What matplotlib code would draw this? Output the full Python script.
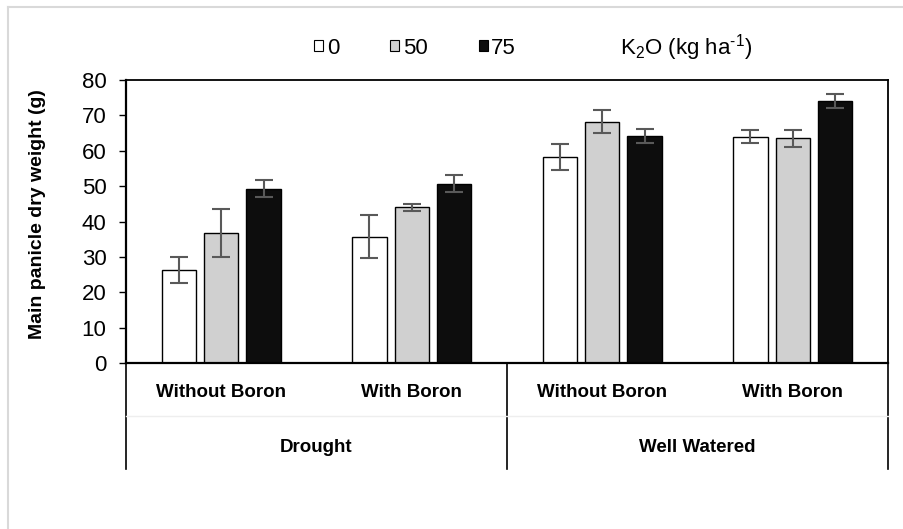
import numpy as np
import matplotlib
matplotlib.use("Agg")
import matplotlib.pyplot as plt
from matplotlib.patches import Patch
import matplotlib.transforms as mtransforms

plt.rcParams['font.family'] = ['Liberation Sans', 'DejaVu Sans']
plt.rcParams['mathtext.fontset'] = 'custom'
plt.rcParams['mathtext.rm'] = 'Liberation Sans'
plt.rcParams['mathtext.it'] = 'Liberation Sans'
plt.rcParams['mathtext.bf'] = 'Liberation Sans:bold'

# data
conditions = ['Drought', 'Well Watered']
boron = ['Without Boron', 'With Boron', 'Without Boron', 'With Boron']
k2o_levels = ['0', '50', '75']
k0 = [26.3, 35.7, 58.3, 64.0]
k50 = [36.7, 44.0, 68.2, 63.5]
k75 = [49.3, 50.7, 64.1, 74.1]
err0 = [3.8, 6.0, 3.7, 1.9]
err50 = [6.8, 0.9, 3.2, 2.5]
err75 = [2.4, 2.5, 2.0, 2.0]

fills = ['white', '#d0d0d0', '#0d0d0d']

fig = plt.figure(figsize=(9.04, 5.29), dpi=100)
ax = fig.add_axes([126/904, 1-363/529, 762/904, 283/529])

x = np.arange(len(boron))
step = 0.222
width = 0.181
series = [k0, k50, k75]
errs = [err0, err50, err75]
handles = []
for i, (vals, ee) in enumerate(zip(series, errs)):
    pos = x + (i - 1) * step
    ax.bar(pos, vals, width, color=fills[i], edgecolor='black', linewidth=1.0, zorder=2)
    ax.errorbar(pos, vals, yerr=ee, fmt='none', ecolor='#595959', elinewidth=1.5,
                capsize=6.5, capthick=1.5, zorder=3)
    handles.append(Patch(facecolor=fills[i], edgecolor='black', linewidth=0.8, label=k2o_levels[i]))

ax.set_xlim(-0.5, 3.5)
ax.set_ylim(0, 80)
ax.set_yticks(range(0, 81, 10))
ax.tick_params(axis='y', labelsize=16, length=5, width=1.0, pad=9, direction='out')
ax.set_xticks([])
for s in ax.spines.values():
    s.set_linewidth(1.3)
ax.spines['bottom'].set_linewidth(1.6)
ax.spines['left'].set_linewidth(1.6)

# category labels below the axis
trans = mtransforms.blended_transform_factory(ax.transData, ax.transAxes)
for xi, lab in zip(x, boron):
    ax.text(xi, -0.106, lab, transform=trans, ha='center', va='center',
            fontsize=13.5, fontweight='bold')
for j, cond in enumerate(conditions):
    ax.text(2 * j + 0.5, -0.297, cond, transform=trans, ha='center', va='center',
            fontsize=13.5, fontweight='bold')
for xv in [-0.5, 1.5, 3.5]:
    ax.plot([xv, xv], [0, -0.375], transform=trans, color='black', lw=1.2, clip_on=False)
ax.plot([-0.5, 3.5], [-0.187, -0.187], transform=trans, color='#eeeeee', lw=1.0, clip_on=False)

fig.text(38/904, 1-214/529, 'Main panicle dry weight (g)', rotation=90, ha='center', va='center',
         fontsize=14, fontweight='bold')

fig.legend(handles=handles, loc='center left', bbox_to_anchor=(314/904, 1-48/529),
           ncol=3, frameon=False, fontsize=16, handlelength=0.42, handleheight=0.42,
           handletextpad=0.15, columnspacing=2.3, borderpad=0, borderaxespad=0)
fig.text(620/904, 1-48/529, r'K$_\mathrm{2}$O (kg ha$^{\text{-1}}$)', ha='left', va='center',
         fontsize=16)

# light outer frame
fig.add_artist(plt.Line2D([8/904, 8/904], [0, 1-7/529], color='#d9d9d9', lw=1.5))
fig.add_artist(plt.Line2D([8/904, 1], [1-7/529, 1-7/529], color='#d9d9d9', lw=1.5))

fig.savefig('out.png', dpi=100)
